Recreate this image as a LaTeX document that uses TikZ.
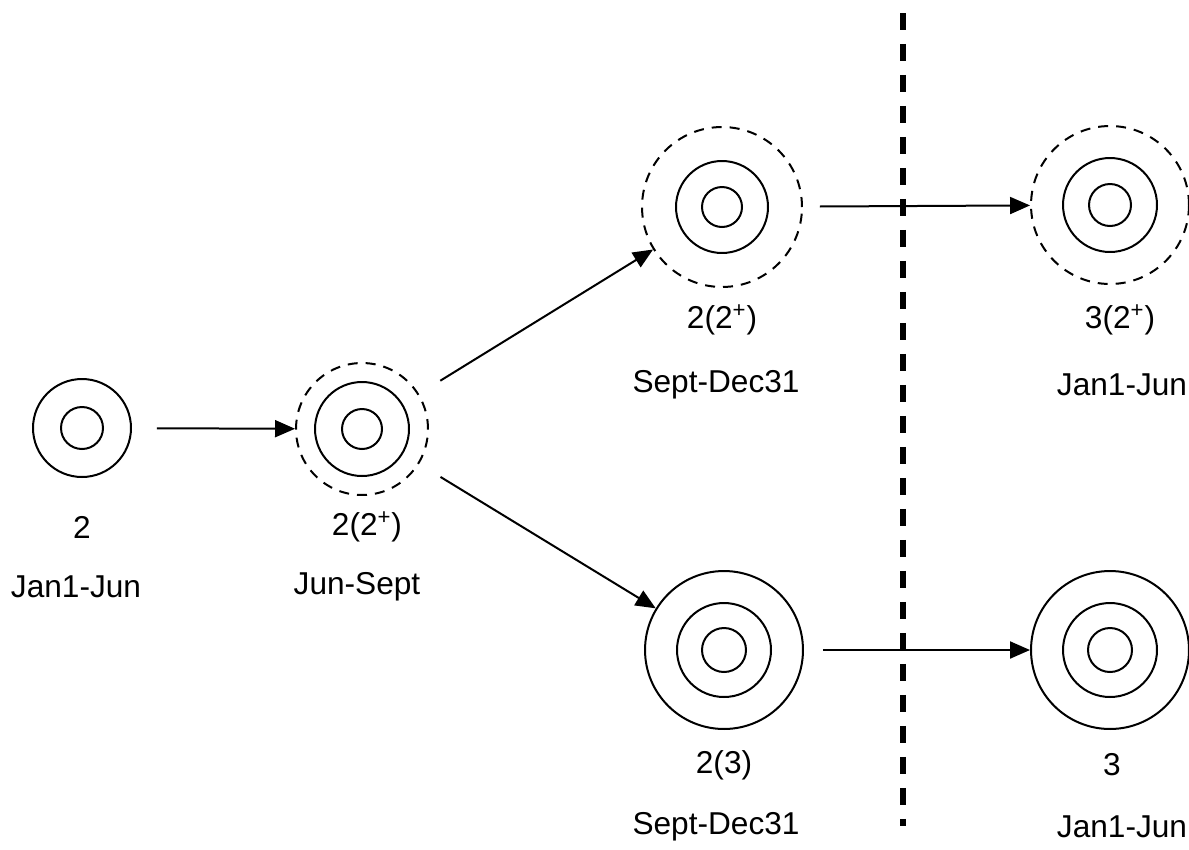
\documentclass[tikz,border=0pt]{standalone}
\usepackage{fontspec}
\setmainfont{Liberation Sans}
\usetikzlibrary{arrows.meta}

\begin{document}
\begin{tikzpicture}[x=0.02cm,y=-0.02cm,>={Triangle[length=0.4cm,width=0.34cm]},
              line width=0.04cm,
              main node/.style={circle,draw,inner sep=0pt},
              dashed node/.style={main node,dash pattern=on 0.2cm off 0.16cm},
              text node/.style={font=\fontsize{18}{20}\selectfont}]

            \useasboundingbox (0,0) rectangle (1189,849);

            % outer rings
            \node[main node,minimum size=1.96cm] (N1) at (82,428) {};
            \node[dashed node,minimum size=2.64cm] (N2) at (362,429) {};
            \node[dashed node,minimum size=3.2cm] (N3) at (722,207) {};
            \node[dashed node,minimum size=3.16cm] (N4) at (1110,205) {};
            \node[main node,minimum size=3.16cm] (N5) at (724,650) {};
            \node[main node,minimum size=3.16cm] (N6) at (1110,650) {};

            % inner rings
            \draw (N1.center) circle[radius=0.42cm];
            \draw (N2.center) circle[radius=0.94cm] (N2.center) circle[radius=0.4cm];
            \draw (N3.center) circle[radius=0.92cm] (N3.center) circle[radius=0.4cm];
            \draw (N4.center) circle[radius=0.94cm] (N4.center) circle[radius=0.42cm];
            \draw (N5.center) circle[radius=0.94cm] (N5.center) circle[radius=0.44cm];
            \draw (N6.center) circle[radius=0.94cm] (N6.center) circle[radius=0.44cm];

            % labels
            \node[text node] (c1) at (82,527) {2};
            \node[text node] (t1) at (76,587) {Jan1-Jun};
            \node[text node] (c2) at (367,527) {2(2\textsuperscript{+})};
            \node[text node] (t2) at (357,587) {Jun-Sept};
            \node[text node] (c3) at (722,320) {2(2\textsuperscript{+})};
            \node[text node] (t3) at (716,385) {Sept-Dec31};
            \node[text node] (c4) at (1120,320) {3(2\textsuperscript{+})};
            \node[text node] (t4) at (1122,385) {Jan1-Jun};
            \node[text node] (c5) at (724,765) {2(3)};
            \node[text node] (t5) at (716,827) {Sept-Dec31};
            \node[text node] (c6) at (1112,765) {3};
            \node[text node] (t6) at (1122,827) {Jan1-Jun};

            % year boundary
            \coordinate (Y1) at (903,13);
            \coordinate (Y2) at (903,826);
            \draw[line width=0.11cm,dash pattern=on 0.34cm off 0.28cm] (Y1) -- (Y2);

            \path[->,draw,shorten <=0.5cm]
            (N1) edge (N2)
            (N2) edge (N3)
            (N2) edge (N5)
            (N3) edge[shorten <=0.34cm] (N4)
            (N5) edge[shorten <=0.38cm] (N6);

          \end{tikzpicture}
\end{document}
